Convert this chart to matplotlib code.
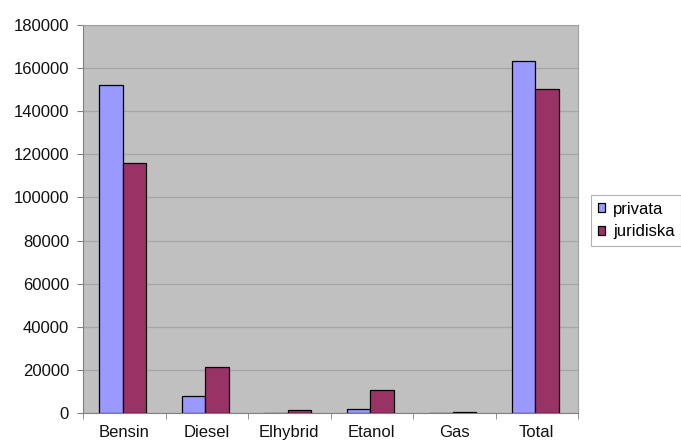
import matplotlib
matplotlib.use("Agg")
import matplotlib.pyplot as plt
import numpy as np

plt.rcParams['font.family'] = ['Liberation Sans', 'DejaVu Sans']

categories = ["Bensin", "Diesel", "Elhybrid", "Etanol", "Gas", "Total"]
privata = [152300, 8000, 0, 1900, 0, 163300]
juridiska = [116000, 21500, 1400, 10700, 600, 150300]
yticks = [0, 20000, 40000, 60000, 80000, 100000, 120000, 140000, 160000, 180000]

fs = 12

fig = plt.figure(figsize=(6.81, 4.42), dpi=100)
ax = fig.add_axes([83 / 681, 29 / 442, 495 / 681, 388 / 442])
ax.set_facecolor("#c0c0c0")

x = np.arange(len(categories))
w = 0.285
ax.bar(x - w / 2 - 0.02, privata, w, color="#9999ff", edgecolor="black", linewidth=0.9,
       label="privata", zorder=3)
ax.bar(x + w / 2 - 0.02, juridiska, w, color="#993366", edgecolor="black", linewidth=0.9,
       label="juridiska", zorder=3)

ax.set_xlim(-0.5, len(categories) - 0.5)
ax.set_ylim(0, 180000)
ax.set_yticks(yticks)
ax.set_yticklabels([str(v) for v in yticks], fontsize=fs, color="#111111")
ax.yaxis.grid(True, color="#a6a6a6", linewidth=0.9, zorder=0)
ax.set_axisbelow(True)

ax.set_xticks(x)
ax.set_xticklabels(categories, fontsize=fs, color="#111111")
ax.tick_params(axis="x", length=0, pad=8.5)
ax.set_xticks(np.arange(-0.5, len(categories)), minor=True)
ax.tick_params(axis="x", which="minor", length=4, color="#808080")
ax.tick_params(axis="y", length=4, color="#808080", pad=6)

for side in ["top", "right"]:
    ax.spines[side].set_color("#a0a0a0")
for side in ["left", "bottom"]:
    ax.spines[side].set_color("#808080")

leg = fig.legend(loc="upper left", bbox_to_anchor=(591 / 681, 1 - 195 / 442),
                 fontsize=fs, frameon=True, fancybox=False, edgecolor="#a0a0a0",
                 handlelength=0.42, handleheight=0.42, handletextpad=0.5,
                 borderpad=0.4, labelspacing=0.45, borderaxespad=0)
leg.get_frame().set_linewidth(0.8)

fig.savefig("out.png", dpi=100, facecolor="white")
